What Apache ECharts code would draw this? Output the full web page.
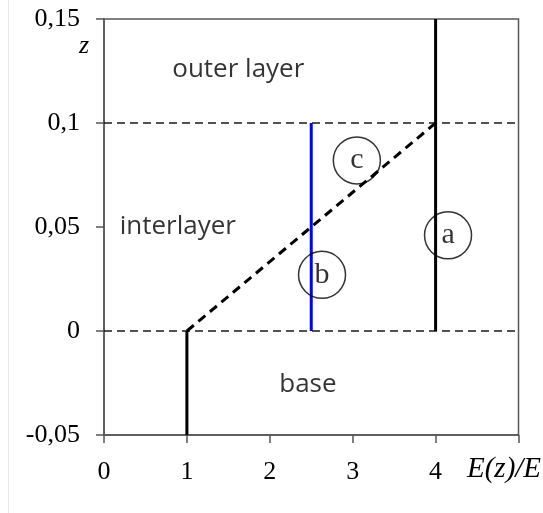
<!DOCTYPE html>
<html>
<head>
<meta charset="utf-8">
<script src="https://cdn.jsdelivr.net/npm/echarts@6/dist/echarts.min.js"></script>
<style>
  html, body { margin: 0; padding: 0; background: #fff; }
  #chart { width: 543px; height: 513px; }
</style>
</head>
<body>
<div id="chart"></div>
<script>
// modulus profiles E(z)/E against depth z
var baseLine = [[1, -0.05], [1, 0]];
var curveA = [[4, 0], [4, 0.15]];
var curveB = [[2.5, 0], [2.5, 0.1]];
var curveC = [[1, 0], [4, 0.1]];
var boundaryZ = [0, 0.1];

// circled case markers
var circleNames = ['a', 'b', 'c'];
var circleX = [4.15, 2.63, 3.05];
var circleZ = [0.046, 0.027, 0.082];

// layer names
var regionNames = ['outer layer', 'interlayer', 'base'];
var regionX = [1.62, 0.89, 2.46];
var regionZ = [0.1255, 0.05, -0.026];

var serif = 'Liberation Serif';
var sans = 'Open Sans';

function lineSeries(data, color, width, dash) {
    return {
        type: 'line',
        data: data,
        symbol: 'none',
        silent: true,
        lineStyle: {
            color: color,
            width: width,
            type: dash ? dash : 'solid'
        },
        z: 3
    };
}

var series = [];
boundaryZ.forEach(function (z) {
    series.push(lineSeries([[0, z], [5, z]], '#1a1a1a', 1.3, [8, 5]));
});
series.push(lineSeries(baseLine, '#000', 3));
series.push(lineSeries(curveA, '#000', 3));
series.push(lineSeries(curveC, '#000', 3, [9, 6]));
series.push(lineSeries(curveB, '#0000ff', 3));

series.push({
    type: 'scatter',
    symbol: 'circle',
    symbolSize: 47,
    silent: true,
    itemStyle: { color: 'rgba(0,0,0,0)', borderColor: '#000', borderWidth: 1.5 },
    label: {
        show: true,
        position: 'inside',
        formatter: function (p) { return p.data[2]; },
        fontFamily: serif,
        fontSize: 30,
        color: '#000'
    },
    data: circleNames.map(function (n, i) { return [circleX[i], circleZ[i], n]; }),
    z: 4
});

series.push({
    type: 'scatter',
    symbolSize: 0,
    silent: true,
    label: {
        show: true,
        position: 'inside',
        formatter: function (p) { return p.data[2]; },
        fontFamily: sans,
        fontSize: 26,
        color: '#000'
    },
    data: regionNames.map(function (n, i) { return [regionX[i], regionZ[i], n]; }),
    z: 4
});

var chart = echarts.init(document.getElementById('chart'));
chart.setOption({
    animation: false,
    grid: {
        left: 104, top: 19, right: 24.5, bottom: 78,
        show: true,
        borderColor: '#555',
        borderWidth: 1.5
    },
    xAxis: {
        type: 'value',
        min: 0, max: 5, interval: 1,
        splitLine: { show: false },
        axisLine: { show: true, onZero: false, lineStyle: { color: '#555', width: 1.5 } },
        axisTick: { show: true, inside: false, length: 8, lineStyle: { color: '#555', width: 1.5 } },
        axisLabel: {
            margin: 24,
            fontFamily: serif,
            fontSize: 26,
            color: '#000',
            formatter: function (v) { return v === 5 ? '' : String(v); }
        }
    },
    yAxis: {
        type: 'value',
        min: -0.05, max: 0.15, interval: 0.05,
        splitLine: { show: false },
        axisLine: { show: true, onZero: false, lineStyle: { color: '#555', width: 1.5 } },
        axisTick: { show: true, inside: false, length: 8, lineStyle: { color: '#555', width: 1.5 } },
        axisLabel: {
            margin: 24,
            fontFamily: serif,
            fontSize: 26,
            color: '#000',
            formatter: function (v) { return String(+v.toFixed(2)).replace('.', ','); }
        }
    },
    graphic: [
        { type: 'line', shape: { x1: 8.5, y1: 0, x2: 8.5, y2: 513 }, style: { stroke: '#e8e8e8', lineWidth: 1 } },
        { type: 'text', left: 79, top: 33, style: { text: 'z', font: 'italic 26px "Liberation Serif"', fill: '#000' } },
        { type: 'text', left: 467, top: 455, style: { text: 'E(z)/E', font: 'italic 29px "Liberation Serif"', fill: '#000' } }
    ],
    series: series
});
</script>
</body>
</html>
